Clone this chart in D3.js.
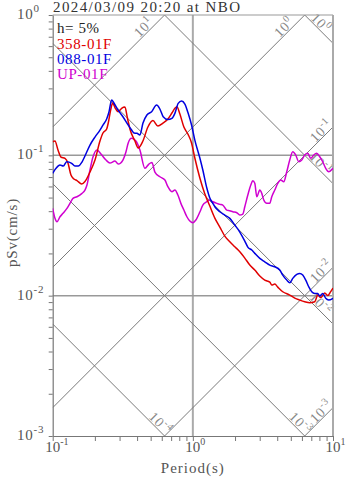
<!DOCTYPE html>
<html><head><meta charset="utf-8">
<script src="https://cdn.jsdelivr.net/npm/d3@7"></script>
<style>
html,body{margin:0;padding:0;background:#fff;}
svg{display:block;font-family:"Liberation Serif","DejaVu Serif",serif;}
</style></head>
<body><svg id="c" width="347" height="478"></svg>
<script>
const titleText = "2024/03/09 20:20 at NBO";
const legendLabels = ["h= 5%", "358-01F", "088-01F", "UP-01F"];
const seriesNames = ["358-01F", "088-01F", "UP-01F"];

const periodRed = [0.1,0.1038,0.1091,0.1146,0.1224,0.1285,0.135,0.1418,0.149,0.161,0.1699,0.1845,0.2003,0.2174,0.2284,0.2427,0.2491,0.2591,0.2678,0.2781,0.2936,0.3103,0.3276,0.3413,0.3556,0.3861,0.4075,0.4402,0.4779,0.5188,0.5632,0.6114,0.6637,0.7087,0.7445,0.7693,0.8082,0.863,0.9216,0.9789,1.033,1.122,1.218,1.322,1.435,1.558,1.691,1.835,1.992,2.163,2.348,2.549,2.767,3.004,3.26,3.539,3.657,3.842,4.036,4.381,4.914,5.335,5.791,6.287,6.824,7.408,7.782,8.175,8.73,9.17,9.63,10];
const psvRed = [0.125,0.1264,0.1091,0.09725,0.09519,0.08813,0.07238,0.06777,0.06613,0.06243,0.06505,0.07603,0.09259,0.1264,0.1442,0.154,0.1699,0.2103,0.2359,0.2191,0.2045,0.2163,0.2209,0.1844,0.154,0.1264,0.1127,0.1264,0.1591,0.177,0.1618,0.1699,0.1814,0.2002,0.2163,0.222,0.1969,0.1591,0.1418,0.1224,0.09566,0.06888,0.05298,0.04351,0.03573,0.03083,0.02659,0.02422,0.02231,0.02056,0.01853,0.01652,0.01522,0.01379,0.01291,0.0125,0.0119,0.0121,0.01151,0.01066,0.0101,0.00961,0.0093,0.00905,0.0089,0.00905,0.0101,0.00969,0.01043,0.01002,0.01069,0.01133];

const periodBlue = [0.1,0.1056,0.1127,0.119,0.1258,0.1366,0.1442,0.1522,0.1618,0.1699,0.1845,0.2003,0.2174,0.2284,0.2427,0.252,0.2634,0.2735,0.2874,0.317,0.3458,0.3657,0.3798,0.3989,0.4191,0.4402,0.4701,0.5078,0.5513,0.582,0.6144,0.6637,0.7087,0.7445,0.7859,0.831,0.8773,0.9261,0.9789,1.033,1.122,1.178,1.258,1.322,1.388,1.435,1.558,1.691,1.835,1.992,2.163,2.348,2.467,2.634,2.767,3.004,3.26,3.539,3.842,4.17,4.381,4.678,4.914,5.162,5.513,5.791,6.083,6.391,6.713,7.052,7.408,7.782,8.042,8.448,8.874,9.322,10];
const psvBlue = [0.07442,0.08079,0.08527,0.08388,0.09002,0.08769,0.08388,0.08388,0.08958,0.09886,0.1184,0.135,0.1514,0.1644,0.1814,0.2035,0.2478,0.2359,0.2163,0.1884,0.1644,0.1514,0.1442,0.1435,0.1395,0.1691,0.1937,0.2045,0.2283,0.2138,0.1884,0.1799,0.1835,0.1992,0.2347,0.2438,0.2321,0.1992,0.1644,0.1285,0.09566,0.07857,0.05846,0.04961,0.04548,0.04301,0.03963,0.03753,0.03556,0.03186,0.0284,0.0245,0.0222,0.02113,0.02002,0.01844,0.01744,0.01652,0.01607,0.01522,0.01402,0.01291,0.01236,0.01328,0.01418,0.01441,0.01402,0.01291,0.01157,0.01066,0.01038,0.01038,0.00993,0.01038,0.00957,0.0093,0.00957];

const periodUp = [0.1,0.1038,0.1073,0.1127,0.1184,0.1264,0.1328,0.1395,0.149,0.1618,0.1699,0.1756,0.1845,0.1938,0.207,0.221,0.2399,0.2562,0.2781,0.2936,0.317,0.333,0.3458,0.3645,0.3925,0.4191,0.4549,0.4858,0.5103,0.5361,0.582,0.6318,0.6637,0.7087,0.7445,0.7821,0.8215,0.863,0.9066,0.952,1.0,1.0505,1.122,1.178,1.258,1.322,1.388,1.483,1.558,1.636,1.747,1.835,1.928,2.059,2.163,2.272,2.348,2.467,2.591,2.678,2.767,2.859,3.004,3.103,3.207,3.369,3.539,3.657,3.842,4.036,4.239,4.453,4.678,4.914,5.162,5.423,5.697,5.984,6.287,6.604,6.938,7.288,7.655,8.042,8.448,8.874,9.322,10];
const psvUp = [0.04189,0.03556,0.03363,0.0365,0.0386,0.04189,0.04548,0.04937,0.05068,0.05358,0.05657,0.06143,0.07857,0.09725,0.1091,0.1022,0.09259,0.08813,0.09107,0.08668,0.09259,0.1056,0.1224,0.1322,0.1264,0.1091,0.08079,0.08668,0.08885,0.07603,0.07039,0.06667,0.05974,0.05502,0.05657,0.05212,0.04548,0.04074,0.0365,0.03402,0.03309,0.03458,0.03943,0.04422,0.0467,0.04802,0.0467,0.04548,0.04473,0.04422,0.04074,0.04027,0.03963,0.03899,0.03753,0.03817,0.04301,0.05212,0.06143,0.06591,0.06315,0.05068,0.05657,0.05358,0.04802,0.04548,0.04548,0.05068,0.05657,0.06315,0.06667,0.06484,0.0764,0.09259,0.1061,0.1005,0.09002,0.09259,0.1005,0.1033,0.09519,0.1005,0.1033,0.09773,0.09002,0.08079,0.0764,0.08079];

const xMajorTicks = [0.1, 1, 10];
const xTickExp = ["-1", "0", "1"];
const yMajorTicks = [0.001, 0.01, 0.1, 1];
const yTickExp = ["-3", "-2", "-1", "0"];
const saLevels = [10, 1, 0.1, 0.01, 0.001];
const saExp = ["1", "0", "-1", "-2", "-3"];
const sdLevels = [1, 0.1, 0.01, 0.001, 0.0001];
const sdExp = ["0", "-1", "-2", "-3", "-4"];

const svg = d3.select("#c");
const L = 52.7, R = 333, T0 = 15, B = 436;
const x = d3.scaleLog().domain([0.1, 10]).range([L, R]);
const y = d3.scaleLog().domain([0.001, 1]).range([B, T0]);

svg.append("defs").append("clipPath").attr("id", "clip")
  .append("rect").attr("x", L).attr("y", T0).attr("width", R - L).attr("height", B - T0);

// grid lines
const grid = svg.append("g");
grid.append("line").attr("x1", x(1)).attr("x2", x(1)).attr("y1", T0).attr("y2", B)
  .attr("stroke", "#aaa").attr("stroke-width", 2);
[0.1, 0.01].forEach(v => grid.append("line").attr("x1", L).attr("x2", R).attr("y1", y(v)).attr("y2", y(v))
  .attr("stroke", "#999").attr("stroke-width", 1.5));

// diagonal lines
const diag = svg.append("g").attr("clip-path", "url(#clip)");
const saP = (sa, t) => sa * t / (2 * Math.PI);
const sdP = (sd, t) => 2 * Math.PI * sd / t;
saLevels.forEach(sa => diag.append("line")
  .attr("x1", x(0.1)).attr("y1", y(saP(sa, 0.1))).attr("x2", x(10)).attr("y2", y(saP(sa, 10)))
  .attr("stroke", "#7a7a7a").attr("stroke-width", 1));
sdLevels.forEach(sd => diag.append("line")
  .attr("x1", x(0.1)).attr("y1", y(sdP(sd, 0.1))).attr("x2", x(10)).attr("y2", y(sdP(sd, 10)))
  .attr("stroke", "#7a7a7a").attr("stroke-width", 1));

// diagonal labels
function supText(sel, base, exp, fs, dy) {
  sel.append("tspan").text(base);
  sel.append("tspan").attr("font-size", fs).attr("dy", dy).text(exp);
}
const dl = svg.append("g").attr("fill", "#888").attr("font-size", 14).attr("letter-spacing", 0.8);
saLevels.forEach((sa, i) => {
  const tTop = 2 * Math.PI / sa;
  let lx, ly;
  if (tTop <= 10) { const ex = x(tTop); lx = ex - 21; ly = T0 + 12; }
  else { const ey = y(saP(sa, 10)); lx = R - 12; ly = ey + 3.5; }
  const t = dl.append("text").attr("text-anchor", "middle")
    .attr("transform", `translate(${lx},${ly}) rotate(-45)`).attr("y", 5);
  supText(t, "10", saExp[i], 10, -6);
});
sdLevels.forEach((sd, i) => {
  const tBot = 2 * Math.PI * sd / 0.001;
  let lx, ly;
  if (tBot <= 10) { const ex = x(tBot); lx = ex - 4; ly = B - 13; }
  else { const ey = y(sdP(sd, 10)); lx = R - 12; ly = ey - 20.5; }
  const t = dl.append("text").attr("text-anchor", "middle")
    .attr("transform", `translate(${lx},${ly}) rotate(45)`).attr("y", 5);
  supText(t, "10", sdExp[i], 10, -6);
});

// frame
svg.append("line").attr("x1", L).attr("x2", R).attr("y1", T0).attr("y2", T0).attr("stroke", "#999").attr("stroke-width", 1.2);
svg.append("line").attr("x1", R).attr("x2", R).attr("y1", T0).attr("y2", B).attr("stroke", "#aaa").attr("stroke-width", 2);

// axes
const minorTicks = [];
[0.001, 0.01, 0.1].forEach(d => { for (let k = 1; k <= 9; k++) minorTicks.push(d * k); });
minorTicks.push(1);
const xTicks = [];
[0.1, 1].forEach(d => { for (let k = 1; k <= 9; k++) xTicks.push(d * k); });
xTicks.push(10);

const xAxis = svg.append("g").attr("transform", `translate(0,${B})`)
  .call(d3.axisBottom(x).tickValues(xTicks).tickSize(5).tickSizeOuter(0).tickFormat(""));
const yAxis = svg.append("g").attr("transform", `translate(${L},0)`)
  .call(d3.axisLeft(y).tickValues(minorTicks).tickSize(4).tickSizeOuter(0).tickFormat(""));
[xAxis, yAxis].forEach(a => {
  a.select(".domain").attr("stroke", "#777").attr("stroke-width", 1.2);
  a.selectAll(".tick line").attr("stroke", "#777");
});

const tl = svg.append("g").attr("fill", "#555").attr("font-size", 15);
xMajorTicks.forEach((v, i) => {
  const t = tl.append("text").attr("x", x(v) - 7.5).attr("y", 452).attr("text-anchor", "start");
  supText(t, "10", xTickExp[i], 10, -7);
});
yMajorTicks.forEach((v, i) => {
  const t = tl.append("text").attr("x", 17).attr("y", y(v) + 4).attr("text-anchor", "start")
    .attr("letter-spacing", 0.8);
  supText(t, "10", yTickExp[i], 11, -7);
});

// axis titles
svg.append("text").attr("x", x(1)).attr("y", 473).attr("text-anchor", "middle")
  .attr("fill", "#555").attr("font-size", 15).attr("letter-spacing", 1).text("Period(s)");
svg.append("text").attr("transform", `translate(17,${(T0 + B) / 2 + 7}) rotate(-90)`)
  .attr("text-anchor", "middle").attr("fill", "#555").attr("font-size", 15).attr("letter-spacing", 0.8).text("pSv(cm/s)");

// title
svg.append("text").attr("x", 53).attr("y", 12).attr("fill", "#333").attr("font-size", 15)
  .attr("letter-spacing", 1.4).text(titleText);

// curves
const colors = ["#e00000", "#0000e0", "#d000d0"];
const data = [
  d3.zip(periodRed, psvRed),
  d3.zip(periodBlue, psvBlue),
  d3.zip(periodUp, psvUp)
];
const line = d3.line().x(d => x(d[0])).y(d => y(d[1])).curve(d3.curveMonotoneX);
const cg = svg.append("g").attr("clip-path", "url(#clip)");
[2, 0, 1].forEach(i => cg.append("path").datum(data[i]).attr("d", line)
  .attr("fill", "none").attr("stroke", colors[i]).attr("stroke-width", 1.5));

// legend
const legColors = ["#222", colors[0], colors[1], colors[2]];
const legY = [33, 48.5, 64, 79];
legendLabels.forEach((s, i) => svg.append("text").attr("x", 57).attr("y", legY[i])
  .attr("fill", legColors[i]).attr("font-size", 15).attr("letter-spacing", 0.6).text(s));
</script></body></html>
